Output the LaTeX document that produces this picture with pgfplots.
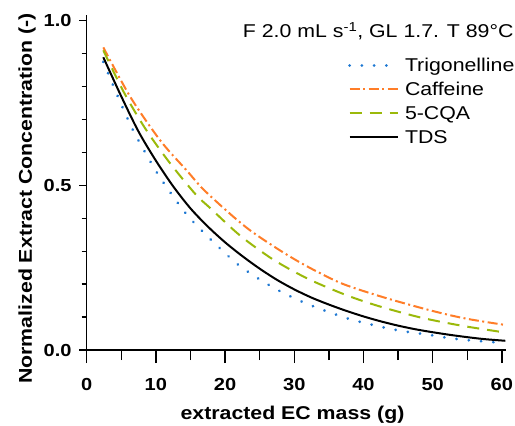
\documentclass[border=0pt]{standalone}
\usepackage{fontspec}
\setmainfont{Liberation Sans}[FakeStretch=1.15]
\usepackage{pgfplots}
\pgfplotsset{compat=1.18}
\definecolor{trig}{RGB}{30,120,210}
\definecolor{caf}{RGB}{255,125,40}
\definecolor{cqa}{RGB}{155,185,10}
\begin{document}
\begin{tikzpicture}
\begin{axis}[
  scale only axis, width=419.3bp, height=335bp,
  xmin=0, xmax=60.6, ymin=0, ymax=1.0173,
  clip=false,
  axis lines=left, axis line style={-, line width=1.4bp, black},
  tick align=outside, tick style={line width=1.4bp, black},
  major tick length=13bp, minor tick length=10bp,
  every major y tick/.append style={xscale=0.592},
  every minor y tick/.append style={xscale=0.5},
  xtick={0,10,...,60}, minor x tick num=1,
  ytick={0,0.5,1}, minor y tick num=4,
  /pgf/number format/assume math mode=true,
  yticklabel style={/pgf/number format/fixed, /pgf/number format/fixed zerofill, /pgf/number format/precision=1},
  tick label style={font=\bfseries\fontsize{17.5}{18}\selectfont},
  xticklabel style={anchor=base, inner sep=0pt, yshift=-27.7bp},
  yticklabel style={anchor=east, inner sep=0pt, xshift=-2bp},
  xlabel={extracted EC mass (g)},
  ylabel={Normalized Extract Concentration (-)},
  label style={font=\bfseries\fontsize{18.6}{20}\selectfont},
  xlabel style={at={(axis description cs:0.4908,-0.2069)}, anchor=base, inner sep=0pt},
  ylabel style={at={(axis description cs:-0.1305,0.4522)}, anchor=base, inner sep=0pt},
  legend style={draw=none, fill=none, inner sep=0pt, outer sep=0pt,
    at={(axis description cs:0.6232,0.8755)}, anchor=north west,
    row sep=6.8bp, column sep=6bp, font=\fontsize{18.6}{20}\selectfont,
    nodes={inner sep=0pt, text height=15bp, text depth=2bp}},
  legend cell align=left,
  legend image code/.code={\draw[#1] (0bp,0bp) -- (48bp,0bp);},
]
\coordinate (O) at (rel axis cs:0,0);
\addplot[trig, smooth, line width=3bp, line cap=round, dash pattern=on 0.01bp off 12.3bp] coordinates {
(2.4,0.875)(3.75,0.807)(5.24,0.734)(6.73,0.666)(8.42,0.601)(10.29,0.534)(12.27,0.473)(14.43,0.412)(16.7,0.361)(19.2,0.310)(21.83,0.260)(24.8,0.217)(27.9,0.179)(31.2,0.146)(34.6,0.118)(38.0,0.094)(40.8,0.079)(43.7,0.065)(46.4,0.055)(49.2,0.047)(51.8,0.038)(54.5,0.031)(57.4,0.026)(60.4,0.021)};
\addlegendentry{Trigonelline}
\addplot[caf, smooth, line width=2bp, dash pattern=on 10bp off 3.5bp on 2bp off 3.5bp] coordinates {
(2.4,0.919)(6.35,0.767)(10.68,0.635)(14.5,0.544)(16.9,0.487)(20.8,0.412)(23.7,0.362)(27.3,0.311)(30.4,0.271)(33.3,0.238)(37.1,0.200)(42.9,0.160)(49.9,0.119)(54.9,0.095)(60.5,0.076)};
\addlegendentry{Caffeine}
\addplot[cqa, smooth, line width=2bp, dash pattern=on 12bp off 8bp] coordinates {
(2.4,0.91)(5.39,0.782)(8.51,0.671)(11.98,0.569)(15.73,0.473)(17.9,0.43)(22.2,0.347)(27.0,0.274)(32.1,0.215)(37.6,0.166)(42.4,0.132)(48.4,0.098)(54.4,0.073)(60.5,0.053)};
\addlegendentry{5-CQA}
\addplot[black, smooth, line width=2bp] coordinates {
(2.4,0.889)(5,0.770)(7.5,0.663)(10,0.575)(12.5,0.497)(15,0.430)(17.5,0.375)(20,0.327)(22.5,0.285)(25,0.247)(27.5,0.213)(30,0.184)(32.5,0.159)(35,0.138)(37.5,0.119)(40,0.102)(42.5,0.087)(45,0.074)(47.5,0.063)(50,0.054)(52.5,0.046)(55,0.039)(57.5,0.033)(60.5,0.028)};
\addlegendentry{TDS}
\node[anchor=base east, inner sep=0pt, font=\fontsize{18.6}{20}\selectfont] at (axis description cs:1.0184,0.9334) {F 2.0 mL s\textsuperscript{-1}, GL 1.7. T 89°C};
\end{axis}
\pgfresetboundingbox
\path[use as bounding box] ([shift={(-86.7bp,-76bp)}]O) rectangle ([shift={(428.3bp,350bp)}]O);
\end{tikzpicture}
\end{document}
